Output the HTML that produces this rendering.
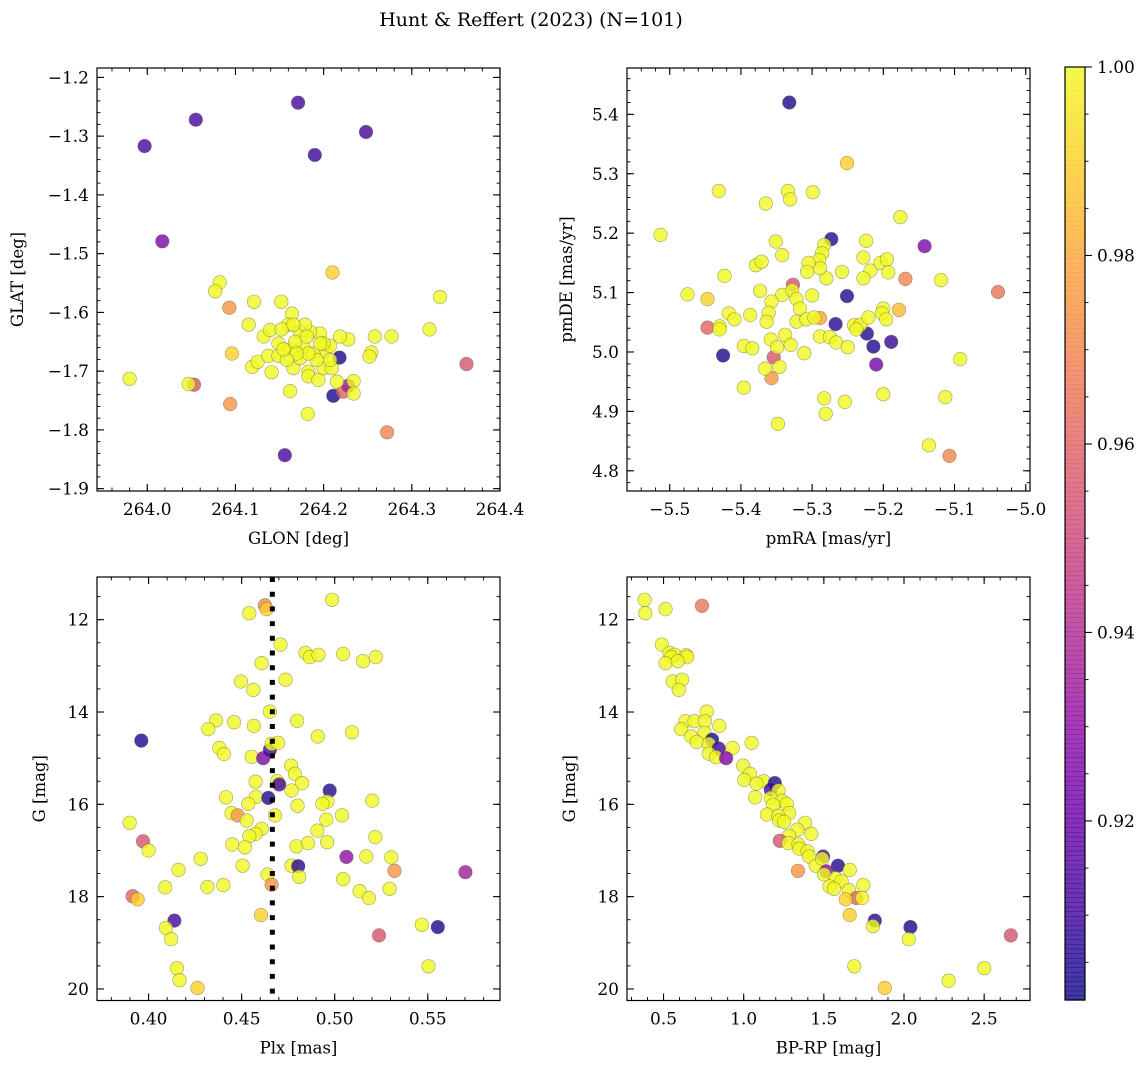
<!DOCTYPE html>
<html><head><meta charset="utf-8"><style>
body{margin:0;background:#fff}
svg{display:block;font-family:"DejaVu Serif","Liberation Serif",serif}
</style></head><body>
<svg id="fig" width="1148" height="1067" viewBox="0 0 1148 1067" xmlns="http://www.w3.org/2000/svg">
<text x="531" y="26" font-size="19" text-anchor="middle">Hunt &amp; Reffert (2023) (N=101)</text>
</svg>
<script>
// ---- Panel 1: GLON vs GLAT ----
const glon=[263.997,264.055,264.171,264.190,264.248,264.017,264.156,264.218,264.211,264.362,264.053,264.222,264.228,264.093,264.094,264.272,264.210,264.096,
263.980,264.047,264.082,264.077,264.121,264.152,264.164,264.332,264.320,264.277,264.258,264.228,264.2187,264.254,264.252,264.234,264.234,264.215,264.182,264.162,264.141,264.119,264.1252,264.115,264.132,264.1392,264.1487,264.1373,264.1487,264.1619,264.1657,264.1827,264.1827,264.1941,264.1998,264.2017,264.2073,264.1960,264.1998,264.1884,264.1771,264.1733,264.1846,264.1790,264.1600,264.1525,264.1676,264.1733,264.1922,264.2092,264.1827,264.1695,264.1582,264.2073,264.1960,264.1809,264.1657,264.1544];
const glat=[-1.317,-1.272,-1.243,-1.332,-1.293,-1.479,-1.843,-1.677,-1.742,-1.688,-1.723,-1.735,-1.725,-1.592,-1.756,-1.804,-1.532,-1.670,
-1.713,-1.722,-1.549,-1.564,-1.582,-1.582,-1.602,-1.574,-1.629,-1.641,-1.641,-1.646,-1.641,-1.668,-1.675,-1.717,-1.738,-1.718,-1.773,-1.734,-1.702,-1.693,-1.684,-1.621,-1.641,-1.630,-1.653,-1.674,-1.674,-1.663,-1.695,-1.701,-1.709,-1.715,-1.695,-1.667,-1.657,-1.636,-1.653,-1.670,-1.658,-1.633,-1.633,-1.621,-1.621,-1.629,-1.650,-1.678,-1.681,-1.695,-1.670,-1.670,-1.681,-1.681,-1.653,-1.641,-1.621,-1.663];
const prob1=[0.912,0.912,0.912,0.91,0.912,0.925,0.912,0.903,0.903,0.955,0.955,0.96,0.935,0.975,0.975,0.97,0.99,0.99];
// ---- Panel 2: pmRA vs pmDE ----
const pmra=[-5.332,-5.251,-5.273,-5.142,-5.169,-5.039,-5.251,-5.327,-5.447,-5.267,-5.223,-5.214,-5.189,-5.210,-5.425,-5.354,-5.357,-5.107,-5.447,-5.289,-5.178,
-5.431,-5.334,-5.331,-5.299,-5.365,-5.176,-5.513,-5.351,-5.342,-5.283,-5.286,-5.290,-5.224,-5.228,-5.218,-5.204,-5.195,-5.193,-5.228,-5.258,-5.280,-5.289,-5.305,-5.307,-5.379,-5.371,-5.423,-5.475,-5.373,-5.342,-5.328,-5.322,-5.317,-5.300,-5.357,-5.361,-5.364,-5.417,-5.409,-5.387,-5.430,-5.430,-5.322,-5.308,-5.297,-5.241,-5.232,-5.238,-5.221,-5.200,-5.202,-5.196,-5.119,-5.358,-5.338,-5.349,-5.330,-5.396,-5.384,-5.311,-5.289,-5.275,-5.266,-5.250,-5.366,-5.346,-5.396,-5.283,-5.254,-5.281,-5.200,-5.113,-5.092,-5.348,-5.136];
const pmde=[5.420,5.318,5.190,5.178,5.123,5.101,5.094,5.113,5.041,5.047,5.031,5.009,5.017,4.979,4.994,4.991,4.956,4.825,5.089,5.057,5.071,
5.271,5.271,5.257,5.269,5.250,5.227,5.197,5.186,5.163,5.180,5.166,5.155,5.187,5.159,5.137,5.150,5.156,5.134,5.124,5.135,5.124,5.141,5.150,5.135,5.146,5.152,5.128,5.097,5.103,5.096,5.104,5.089,5.073,5.095,5.085,5.066,5.051,5.065,5.055,5.062,5.043,5.038,5.051,5.055,5.058,5.045,5.046,5.038,5.058,5.073,5.065,5.055,5.121,5.021,5.029,5.008,5.012,5.010,5.006,4.998,5.026,5.025,5.016,5.008,4.972,4.975,4.940,4.922,4.916,4.896,4.929,4.924,4.988,4.879,4.843];
const prob2=[0.903,0.99,0.905,0.925,0.97,0.965,0.905,0.955,0.96,0.905,0.905,0.905,0.908,0.922,0.903,0.955,0.975,0.97,0.99,0.98,0.985];
// ---- Panel 3: Plx vs G ----
const plx=[.4986,.4625,.4634,.4541,.4709,.4843,.4866,.4913,.5045,.5152,.5220,.4607,.4496,.4736,.4563,.4652,.4363,.4321,.4459,.4566,.4798,.4909,.5093,.3961,.4380,.4405,.4554,.4616,.4652,.4661,.4696,.4766,.4786,.4825,.4575,.4691,.4702,.4768,.4973,.4961,.4934,.5202,.4416,.4577,.4643,.4536,.4679,.4800,.4446,.4479,.4527,.4607,.4575,.4541,.4955,.5039,.4907,.4450,.4518,.4795,.4857,.4959,.5218,.3898,.3970,.4000,.4280,.5063,.5170,.5304,.4161,.4505,.4768,.4804,.4809,.5321,.5702,.4639,.4661,.4089,.4316,.4402,.5045,.5134,.5184,.5295,.3914,.3941,.4604,.4139,.4093,.4121,.5468,.5554,.5238,.4152,.4166,.5504,.4263];
const gmag3=[11.57,11.69,11.77,11.86,12.54,12.72,12.81,12.76,12.74,12.90,12.81,12.94,13.34,13.30,13.52,13.99,14.18,14.37,14.22,14.30,14.19,14.53,14.44,14.62,14.78,14.91,14.97,15.00,14.82,14.69,14.67,15.16,15.34,15.54,15.51,15.50,15.57,15.70,15.70,15.94,15.99,15.92,15.85,15.84,15.86,15.99,16.24,16.03,16.19,16.24,16.35,16.53,16.64,16.69,16.33,16.24,16.57,16.87,16.93,16.91,16.84,16.82,16.71,16.40,16.80,17.00,17.18,17.14,17.13,17.15,17.42,17.33,17.33,17.34,17.57,17.44,17.47,17.52,17.74,17.80,17.79,17.75,17.62,17.88,18.03,17.83,17.99,18.06,18.40,18.52,18.68,18.92,18.61,18.66,18.84,19.55,19.81,19.51,19.98];
const prob3=[1,0.97,0.99,1,1,1,1,1,1,1,1,1,1,1,1,1,1,1,1,1,1,1,1,0.903,1,1,1,0.925,0.91,1,1,1,1,1,1,1,0.91,1,0.905,1,1,1,1,1,0.905,1,1,1,1,0.975,1,1,1,1,1,1,1,1,1,1,1,1,1,1,0.955,1,1,0.93,1,1,1,1,1,0.905,1,0.975,0.935,1,0.975,1,1,1,1,1,1,1,0.96,0.99,0.99,0.912,1,1,1,0.903,0.955,1,1,1,0.99];
// ---- Panel 4: BP-RP vs G ----
const bprp=[.382,.386,.512,.740,.490,.537,.568,.548,.641,.647,.512,.589,.558,.616,.595,.769,.637,.693,.758,.610,.848,.755,.672,.707,.803,.782,.844,.931,1.049,.782,.827,.890,.997,1.039,1.004,1.124,1.080,1.194,1.169,1.217,1.072,1.169,1.238,1.269,1.184,1.283,1.145,1.215,1.221,1.252,1.383,1.335,1.422,1.283,1.225,1.279,1.342,1.346,1.398,1.408,1.495,1.449,1.490,1.588,1.661,1.516,1.501,1.339,1.574,1.611,1.536,1.563,1.656,1.746,1.702,1.739,1.636,1.661,1.818,1.806,2.040,2.030,2.666,1.690,2.500,2.278,1.880];
const gmag4=[11.57,11.86,11.77,11.70,12.54,12.72,12.76,12.81,12.77,12.81,12.94,12.90,13.34,13.30,13.52,13.99,14.20,14.20,14.20,14.37,14.30,14.45,14.53,14.65,14.60,14.69,14.79,14.78,14.67,14.90,14.98,15.00,15.16,15.34,15.47,15.50,15.55,15.54,15.68,15.70,15.85,15.86,15.92,15.99,16.01,16.19,16.22,16.25,16.35,16.38,16.40,16.55,16.64,16.68,16.79,16.84,16.87,16.96,17.02,17.13,17.13,17.33,17.18,17.33,17.42,17.45,17.52,17.44,17.60,17.67,17.78,17.83,17.86,17.75,18.03,18.03,18.06,18.40,18.52,18.64,18.66,18.92,18.84,19.51,19.55,19.82,19.98];
const prob4=[1,1,1,0.965,1,1,1,1,1,1,1,1,1,1,1,1,1,1,1,1,1,1,1,1,0.903,1,0.91,1,1,1,1,0.925,1,1,1,1,1,0.905,0.91,1,1,1,1,1,1,1,1,1,1,1,1,1,1,1,0.955,1,1,1,1,1,0.91,1,1,0.905,1,0.93,1,0.975,1,1,1,1,1,1,0.96,1,0.99,0.99,0.905,1,0.903,1,0.955,1,1,1,0.99];
const plxLine=0.4665;
const cbTicks=[0.92,0.94,0.96,0.98,1.00];

const NS='http://www.w3.org/2000/svg';
const svg=document.getElementById('fig');
const VMIN=0.901,VMAX=1.0;
const stops=['#0d0887','#41049d','#6a00a8','#8f0da4','#b12a90','#cc4778','#e16462','#f2844b','#fca636','#fcce25','#f0f921'];
function hx(h){return [1,3,5].map(i=>parseInt(h.substr(i,2),16));}
function cmap(v){let t=(v-VMIN)/(VMAX-VMIN);t=Math.max(0,Math.min(1,t));const f=t*10,i=Math.min(9,Math.floor(f)),r=f-i;const a=hx(stops[i]),b=hx(stops[i+1]);return 'rgb('+a.map((c,k)=>Math.round(c+(b[k]-c)*r)).join(',')+')';}
function mk(tag,attrs,parent){const e=document.createElementNS(NS,tag);for(const k in attrs)e.setAttribute(k,attrs[k]);(parent||svg).appendChild(e);return e;}
function fmt(v,d){return (v<0?'\u2212':'')+Math.abs(v).toFixed(d);}

function panel(o){
  const g=mk('g',{});
  
  
  const X=v=>o.x0+(v-o.xl[0])/(o.xl[1]-o.xl[0])*(o.x1-o.x0);
  const Y=v=>o.y0+(v-o.yl[0])/(o.yl[1]-o.yl[0])*(o.y1-o.y0);
  for(let i=0;i<o.xs.length;i++){
    const p=o.p[i]===undefined?1:o.p[i];
    const c=mk('circle',{cx:X(o.xs[i]).toFixed(1),cy:Y(o.ys[i]).toFixed(1),r:6.8,fill:cmap(p),'fill-opacity':0.8,stroke:'rgba(90,90,60,0.55)','stroke-width':0.6},g);
    
    
  }
  if(o.vline!==undefined){
    const l=mk('line',{x1:X(o.vline),x2:X(o.vline),y1:o.y0,y2:o.y1,stroke:'#000','stroke-width':5,'stroke-dasharray':'5 9.7'},g);
    
    
  }
  const fr=mk('rect',{x:o.x0,y:Math.min(o.y0,o.y1),width:o.x1-o.x0,height:Math.abs(o.y1-o.y0),fill:'none',stroke:'#000','stroke-width':1.2},g);
  
  
  const top=Math.min(o.y0,o.y1),bot=Math.max(o.y0,o.y1);
  const lo=Math.min(...o.xl),hi=Math.max(...o.xl);
  for(let v=Math.ceil(lo/o.xm-1e-6)*o.xm;v<=hi+1e-9;v+=o.xm){const x=X(v);mk('line',{x1:x,x2:x,y1:bot,y2:bot-3.5,stroke:'#000','stroke-width':0.9},g);mk('line',{x1:x,x2:x,y1:top,y2:top+3.5,stroke:'#000','stroke-width':0.9},g);}
  const ylo=Math.min(...o.yl),yhi=Math.max(...o.yl);
  for(let v=Math.ceil(ylo/o.ym-1e-6)*o.ym;v<=yhi+1e-9;v+=o.ym){const y=Y(v);mk('line',{x1:o.x0,x2:o.x0+3.5,y1:y,y2:y,stroke:'#000','stroke-width':0.9},g);mk('line',{x1:o.x1,x2:o.x1-3.5,y1:y,y2:y,stroke:'#000','stroke-width':0.9},g);}
  o.xt.forEach(v=>{const x=X(v);mk('line',{x1:x,x2:x,y1:bot,y2:bot-7,stroke:'#000','stroke-width':1.1},g);mk('line',{x1:x,x2:x,y1:top,y2:top+7,stroke:'#000','stroke-width':1.1},g);
    const t=mk('text',{x:x,y:bot+24,'font-size':17,'text-anchor':'middle'},g);t.textContent=fmt(v,o.xd);
    
    });
  o.yt.forEach(v=>{const y=Y(v);mk('line',{x1:o.x0,x2:o.x0+7,y1:y,y2:y,stroke:'#000','stroke-width':1.1},g);mk('line',{x1:o.x1,x2:o.x1-7,y1:y,y2:y,stroke:'#000','stroke-width':1.1},g);
    const t=mk('text',{x:o.x0-8,y:y+6,'font-size':17,'text-anchor':'end'},g);t.textContent=fmt(v,o.yd);
    
    });
  const xl=mk('text',{x:(o.x0+o.x1)/2,y:bot+53,'font-size':16.5,'text-anchor':'middle'},g);xl.textContent=o.xlab;
  
  
  const yl=mk('text',{x:0,y:0,'font-size':16.5,'text-anchor':'middle',transform:'translate('+o.ylx+','+(top+bot)/2+') rotate(-90)'},g);yl.textContent=o.ylab;
  
  
}
panel({name:'glon-glat-panel',x0:97,x1:500,y0:68,y1:491,xl:[263.943,264.4],yl:[-1.184,-1.904],xs:glon,ys:glat,p:prob1,xt:[264.0,264.1,264.2,264.3,264.4],yt:[-1.2,-1.3,-1.4,-1.5,-1.6,-1.7,-1.8,-1.9],xm:0.02,ym:0.02,xd:1,yd:1,xlab:'GLON [deg]',ylab:'GLAT [deg]',ylx:23});
panel({name:'proper-motion-panel',x0:627,x1:1030,y0:68,y1:491,xl:[-5.560,-4.994],yl:[5.478,4.766],xs:pmra,ys:pmde,p:prob2,xt:[-5.5,-5.4,-5.3,-5.2,-5.1,-5.0],yt:[5.4,5.3,5.2,5.1,5.0,4.9,4.8],xm:0.02,ym:0.02,xd:1,yd:1,xlab:'pmRA [mas/yr]',ylab:'pmDE [mas/yr]',ylx:572});
panel({name:'parallax-g-panel',x0:97,x1:500,y0:577,y1:1000.5,xl:[0.3723,0.5888],yl:[11.075,20.25],xs:plx,ys:gmag3,p:prob3,vline:plxLine,xt:[0.40,0.45,0.50,0.55],yt:[12,14,16,18,20],xm:0.01,ym:0.5,xd:2,yd:0,xlab:'Plx [mas]',ylab:'G [mag]',ylx:45});
panel({name:'color-magnitude-panel',x0:627,x1:1030,y0:577,y1:1000.5,xl:[0.272,2.786],yl:[11.075,20.25],xs:bprp,ys:gmag4,p:prob4,xt:[0.5,1.0,1.5,2.0,2.5],yt:[12,14,16,18,20],xm:0.1,ym:0.5,xd:1,yd:0,xlab:'BP-RP [mag]',ylab:'G [mag]',ylx:575});

const cb=mk('g',{});


const CT=67,CB=1000,CX=1065,CW=20;
const CY=v=>CB-(v-VMIN)/(VMAX-VMIN)*(CB-CT);
for(let i=0;i<200;i++){const y0=CT+(CB-CT)*i/200;mk('rect',{x:CX,y:y0,width:CW,height:(CB-CT)/200+0.6,fill:cmap(VMAX-(VMAX-VMIN)*(i+0.5)/200),'fill-opacity':0.8},cb);}
mk('rect',{x:CX,y:CT,width:CW,height:CB-CT,fill:'none',stroke:'#000','stroke-width':1.2},cb);
for(let v=0.905;v<=1.0001;v+=0.005){const y=CY(v);mk('line',{x1:CX+CW,x2:CX+CW+3.5,y1:y,y2:y,stroke:'#000','stroke-width':0.9},cb);}
cbTicks.forEach(v=>{const y=CY(v);mk('line',{x1:CX+CW,x2:CX+CW+7,y1:y,y2:y,stroke:'#000','stroke-width':1.1},cb);
  const t=mk('text',{x:CX+CW+12,y:y+6,'font-size':17},cb);t.textContent=v.toFixed(2);
  
  });
</script>
</body></html>
